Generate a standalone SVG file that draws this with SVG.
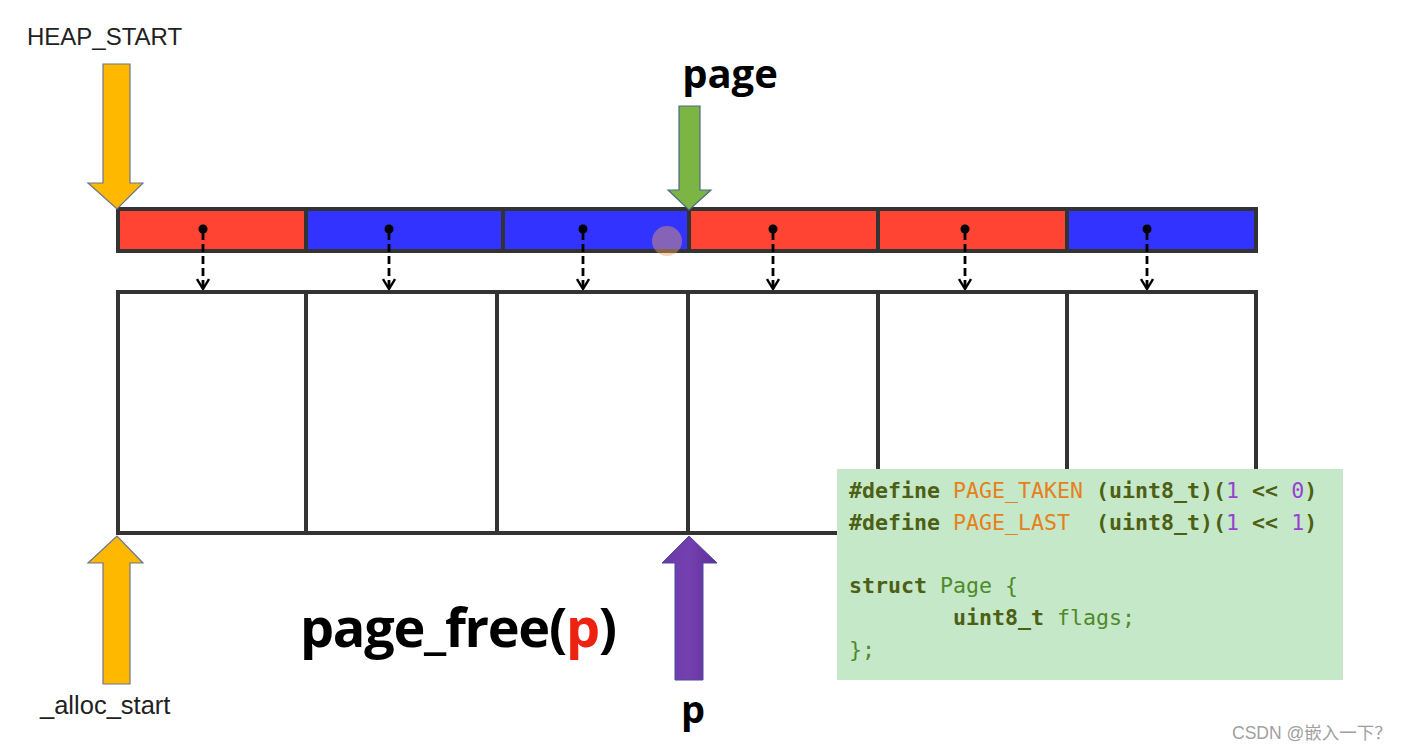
<svg xmlns="http://www.w3.org/2000/svg" width="1413" height="752" viewBox="0 0 1413 752">
<style>
.lbl{font-family:"Liberation Sans",Arial,sans-serif;fill:#222}
.big{font-family:"Open Sans","Liberation Sans",sans-serif;font-weight:bold;fill:#000}
.seg{stroke:#333;stroke-width:4}
.box{fill:#fff;stroke:#333;stroke-width:4}
.ptr{stroke:#000;stroke-width:2.8;stroke-dasharray:8 4;fill:none}
.code{font-family:"DejaVu Sans Mono","Liberation Mono",monospace;font-size:21.6px;white-space:pre}
.kw{fill:#4d5f14;font-weight:bold}
.mc{fill:#E5801C}
.nm{fill:#9A3FD6}
.gr{fill:#4F8A2A}
</style>
<defs>
<marker id="ah" viewBox="0 0 12 14" refX="11" refY="7" markerWidth="12" markerHeight="14" markerUnits="userSpaceOnUse" orient="auto">
<path d="M1,1 L11,7 L1,13" fill="none" stroke="#000" stroke-width="2.4"/>
</marker>
<linearGradient id="pg" x1="0" y1="0" x2="1" y2="0">
<stop offset="0" stop-color="#6A3AA8"/><stop offset="0.5" stop-color="#7440B0"/><stop offset="1" stop-color="#5E2E98"/>
</linearGradient>
</defs>
<rect width="1413" height="752" fill="#fff"/>

<g id="lower-pages">
<rect class="box" x="118" y="292" width="188" height="241"/>
<rect class="box" x="306" y="292" width="191" height="241"/>
<rect class="box" x="497" y="292" width="191" height="241"/>
<rect class="box" x="688" y="292" width="190" height="241"/>
<rect class="box" x="878" y="292" width="189" height="241"/>
<rect class="box" x="1067" y="292" width="189" height="241"/>
</g>

<g id="page-descriptors">
<rect class="seg" x="118" y="209" width="188" height="42" fill="#FF4433"/>
<rect class="seg" x="306" y="209" width="197" height="42" fill="#3333FF"/>
<rect class="seg" x="503" y="209" width="186" height="42" fill="#3333FF"/>
<rect class="seg" x="689" y="209" width="189" height="42" fill="#FF4433"/>
<rect class="seg" x="878" y="209" width="189" height="42" fill="#FF4433"/>
<rect class="seg" x="1067" y="209" width="189" height="42" fill="#3333FF"/>
<circle cx="667" cy="241" r="15" fill="#E8A060" opacity="0.45"/>
</g>

<g id="connectors">
<g fill="#000">
<circle cx="203" cy="229" r="4.5"/><circle cx="389" cy="229" r="4.5"/><circle cx="583" cy="229" r="4.5"/>
<circle cx="773" cy="229" r="4.5"/><circle cx="965" cy="229" r="4.5"/><circle cx="1147" cy="229" r="4.5"/>
</g>
<line class="ptr" x1="203" y1="232" x2="203" y2="289" marker-end="url(#ah)"/>
<line class="ptr" x1="389" y1="232" x2="389" y2="289" marker-end="url(#ah)"/>
<line class="ptr" x1="583" y1="232" x2="583" y2="289" marker-end="url(#ah)"/>
<line class="ptr" x1="773" y1="232" x2="773" y2="289" marker-end="url(#ah)"/>
<line class="ptr" x1="965" y1="232" x2="965" y2="289" marker-end="url(#ah)"/>
<line class="ptr" x1="1147" y1="232" x2="1147" y2="289" marker-end="url(#ah)"/>
</g>

<g id="heap-start">
<text class="lbl" x="27" y="45" font-size="24">HEAP_START</text>
<path d="M103,64 H130 V183 H143 L117,209 L88,183 H103 Z" fill="#FFB800" stroke="#6A7590" stroke-width="1.2"/>
</g>

<g id="page-ptr">
<text class="big" x="730" y="88" font-size="40" text-anchor="middle">page</text>
<path d="M679,106 H700 V190 H711 L689,210 L668,190 H679 Z" fill="#7DB544" stroke="#4A6A8A" stroke-width="1.2"/>
</g>

<g id="alloc-start">
<path d="M103,684 H130 V563 H143 L117,536 L88,563 H103 Z" fill="#FFB800" stroke="#6A7590" stroke-width="1.2"/>
<text class="lbl" x="40" y="714" font-size="25.5">_alloc_start</text>
</g>

<g id="p-ptr">
<path d="M675,680 H703 V563 H717 L689,536 L662,563 H675 Z" fill="url(#pg)" stroke="#4A4AA0" stroke-width="1"/>
<text class="big" x="693" y="723" font-size="38" text-anchor="middle">p</text>
</g>

<g id="call-label">
<text class="big" x="300" y="647" font-size="54" letter-spacing="-1.3">page_free(<tspan fill="#EE2211">p</tspan>)</text>
</g>

<g id="code">
<rect x="837" y="469" width="506" height="211" fill="#C5E8C8"/>
<text class="code" x="849" y="498"><tspan class="kw">#define</tspan> <tspan class="mc">PAGE_TAKEN</tspan> <tspan class="kw">(uint8_t)</tspan><tspan class="kw">(</tspan><tspan class="nm">1</tspan><tspan class="kw"> &lt;&lt; </tspan><tspan class="nm">0</tspan><tspan class="kw">)</tspan></text>
<text class="code" x="849" y="530"><tspan class="kw">#define</tspan> <tspan class="mc">PAGE_LAST</tspan>  <tspan class="kw">(uint8_t)</tspan><tspan class="kw">(</tspan><tspan class="nm">1</tspan><tspan class="kw"> &lt;&lt; </tspan><tspan class="nm">1</tspan><tspan class="kw">)</tspan></text>
<text class="code" x="849" y="593"><tspan class="kw">struct</tspan> <tspan class="gr">Page {</tspan></text>
<text class="code" x="849" y="625">        <tspan class="kw">uint8_t</tspan> <tspan class="gr">flags;</tspan></text>
<text class="code" x="849" y="657"><tspan class="gr">};</tspan></text>
</g>

<text x="1232" y="739" font-family="'Liberation Sans','Noto Sans CJK SC',sans-serif" font-size="17.5" fill="#A0A0A0">CSDN @嵌入一下？</text>
</svg>
